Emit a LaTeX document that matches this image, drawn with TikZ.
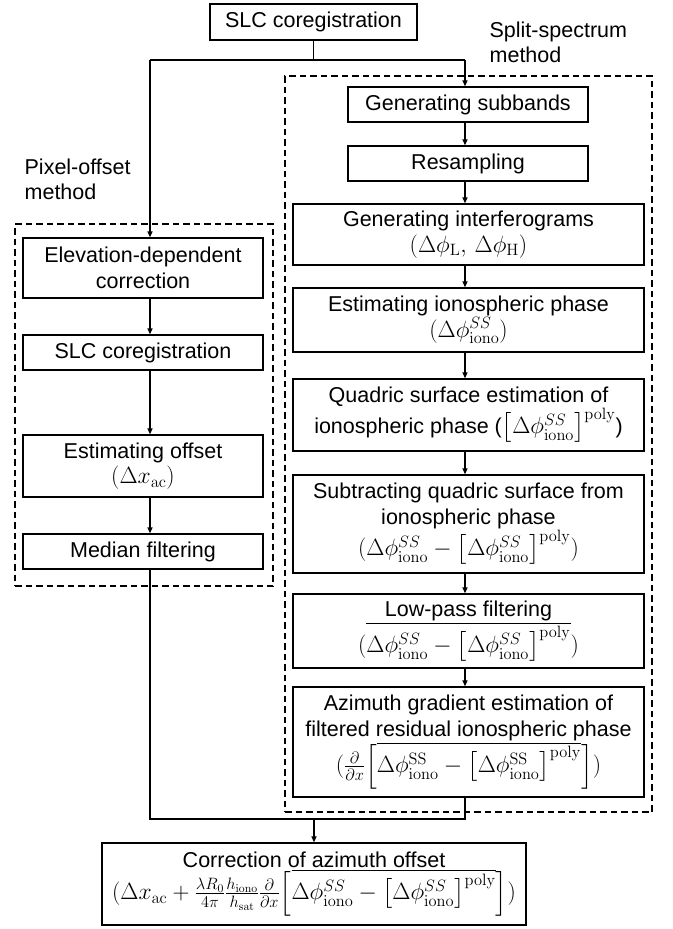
\RequirePackage{fix-cm}
\documentclass[tikz,border=0pt]{standalone}
\usepackage{amsmath}
\usepackage[no-math]{fontspec}
\setmainfont{Liberation Sans}
\usetikzlibrary{arrows.meta}
\newcommand{\iono}[1]{\Delta\phi^{#1}_{\mathrm{iono}}}
\newcommand{\resid}[1]{\iono{#1}-\bigl[\iono{#1}\bigr]^{\mathrm{poly}}}
\newcommand{\fm}[1]{{\fontsize{23.5}{26}\selectfont$#1$}}
\begin{document}
\begin{tikzpicture}[x=1pt,y=-1pt,line width=1.3pt,>={Triangle[length=6pt,width=5pt]},
    every node/.style={font=\fontsize{21.5}{25.5}\selectfont},
    stage/.style={draw, align=center, inner sep=0pt, minimum width=351pt},
    narrow/.style={stage, minimum width=240pt},
    grp/.style={draw, dash pattern=on 6.5pt off 4pt, inner sep=0pt}]
    \useasboundingbox (0,0) rectangle (672,929);
    \node[grp,minimum width=367pt,minimum height=736pt] (ssgroup) at (468.5,444){};
    \node[grp,minimum width=258pt,minimum height=362pt] (pogroup) at (144,405){};
    \node[anchor=north west,align=left,inner sep=0pt] (sslabel) at (489,21) {Split-spectrum\\method};
    \node[anchor=north west,align=left,inner sep=0pt] (polabel) at (24,158) {Pixel-offset\\method};
    \node[narrow,minimum width=207pt,minimum height=36pt] (coreg) at (313.5,22) {SLC coregistration};
    \node[narrow,minimum height=35pt] (subbands) at (468,104.5) {Generating subbands};
    \node[narrow,minimum height=35pt] (resamp) at (468,163.5) {Resampling};
    \node[stage,minimum height=61pt] (interf) at (468.5,234.5) {Generating interferograms\\\fm{(\Delta\phi_{\mathrm{L}},\,\Delta\phi_{\mathrm{H}})}};
    \node[stage,minimum height=64pt] (estphase) at (468.5,320) {Estimating ionospheric phase\\\fm{(\iono{SS})}};
    \node[stage,minimum height=72pt] (quadric) at (468.5,415) {Quadric surface estimation of\\ionospheric phase (\fm{\bigl[\iono{SS}\bigr]^{\mathrm{poly}}})};
    \node[stage,minimum height=98pt] (subtract) at (468.5,524) {Subtracting quadric surface from\\ionospheric phase\\\fm{(\resid{SS})}};
    \node[stage,minimum height=74pt] (lowpass) at (468.5,631) {Low-pass filtering\\\fm{(\overline{\resid{SS}})}};
    \node[stage,minimum height=110pt] (gradient) at (468.5,742) {Azimuth gradient estimation of\\filtered residual ionospheric phase\\\fm{(\tfrac{\partial}{\partial x}\Bigl[\overline{\resid{\mathrm{SS}}}\Bigr])}};
    \node[narrow,minimum height=60pt] (elev) at (143,268) {Elevation-dependent\\correction};
    \node[narrow,minimum height=35pt] (coreg2) at (143,352.5) {SLC coregistration};
    \node[narrow,minimum height=62pt] (offset) at (143,466) {Estimating offset\\\fm{(\Delta x_{\mathrm{ac}})}};
    \node[narrow,minimum height=35pt] (median) at (143,551.5) {Median filtering};
    \node[stage,minimum width=424pt,minimum height=82pt] (correct) at (314,884) {Correction of azimuth offset\\\fm{(\Delta x_{\mathrm{ac}}+\tfrac{\lambda R_0}{4\pi}\tfrac{h_{\mathrm{iono}}}{h_{\mathrm{sat}}}\tfrac{\partial}{\partial x}\Bigl[\overline{\resid{SS}}\Bigr])}};
    \coordinate (splitl) at (150,60);
    \coordinate (splitr) at (465,60);
    \coordinate (joinl) at (150,819);
    \coordinate (joinr) at (465,819);
    \draw (coreg.south) -- (coreg.south |- splitl);
    \draw (splitl) -- (splitr);
    \draw[->] (splitr) -- (splitr |- subbands.north);
    \draw[->] (splitl) -- (splitl |- elev.north);
    \draw[->] (subbands.south -| splitr) -- (resamp.north -| splitr);
    \draw[->] (resamp.south -| splitr) -- (interf.north -| splitr);
    \draw[->] (interf.south -| splitr) -- (estphase.north -| splitr);
    \draw[->] (estphase.south -| splitr) -- (quadric.north -| splitr);
    \draw[->] (quadric.south -| splitr) -- (subtract.north -| splitr);
    \draw[->] (subtract.south -| splitr) -- (lowpass.north -| splitr);
    \draw[->] (lowpass.south -| splitr) -- (gradient.north -| splitr);
    \draw[->] (elev.south -| splitl) -- (coreg2.north -| splitl);
    \draw[->] (coreg2.south -| splitl) -- (offset.north -| splitl);
    \draw[->] (offset.south -| splitl) -- (median.north -| splitl);
    \draw (median.south -| joinl) -- (joinl) -- (joinr) -- (gradient.south -| joinr);
    \draw[->] (correct.north |- joinl) -- (correct.north);
  \end{tikzpicture}
\end{document}
